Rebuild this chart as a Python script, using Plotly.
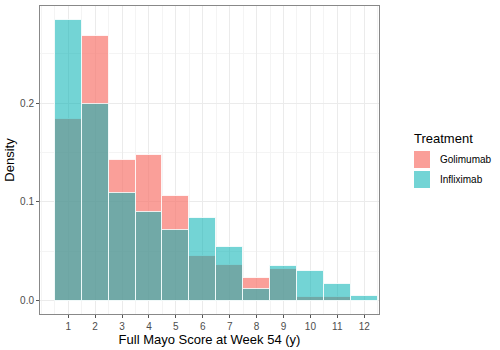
import plotly.graph_objects as go

scores = list(range(1, 13))
golimumab = [0.184, 0.268, 0.143, 0.148, 0.106, 0.045, 0.036, 0.023, 0.032, 0.004, 0.004, 0.0]
infliximab = [0.284, 0.199, 0.109, 0.090, 0.072, 0.084, 0.054, 0.012, 0.035, 0.030, 0.017, 0.005]
groups = ["Golimumab", "Infliximab"]
colors = ["rgba(248,118,109,0.7)", "rgba(0,177,178,0.55)"]

fig = go.Figure()
for name, vals, col in zip(groups, [golimumab, infliximab], colors):
    fig.add_trace(go.Bar(x=scores, y=vals, name=name, width=1, showlegend=False,
                         marker=dict(color=col, line=dict(color="rgba(255,255,255,0.8)", width=1))))

axis_common = dict(showline=True, mirror=True, linecolor="#888", linewidth=1,
                   ticks="outside", ticklen=3, tickcolor="#555",
                   tickfont=dict(size=10, color="#4d4d4d"),
                   gridcolor="#ebebeb", gridwidth=1, zeroline=False)

fig.update_xaxes(range=[-0.05, 12.55], tickvals=scores,
                 minor=dict(dtick=0.5, tick0=0.5, showgrid=True, gridcolor="#f4f4f4", gridwidth=0.5),
                 title=dict(text="Full Mayo Score at Week 54 (y)", font=dict(size=13, color="#000"), standoff=0),
                 **axis_common)
fig.update_yaxes(range=[-0.0135, 0.2986], tickvals=[0, 0.1, 0.2], ticktext=["0.0", "0.1", "0.2"],
                 minor=dict(tickvals=[0.05, 0.15, 0.25], showgrid=True, gridcolor="#f4f4f4", gridwidth=0.5),
                 title=dict(text="Density", font=dict(size=13, color="#000"), standoff=2),
                 **axis_common)

# ggplot-style legend: big keys, labels close to keys
W, H = 339.0, 308.0
def px(x): return (x - 40) / W
def py(y): return (314 - y) / H

fig.add_annotation(text="Treatment", xref="paper", yref="paper", x=px(412), y=py(139),
                   xanchor="left", yanchor="middle", showarrow=False, font=dict(size=13, color="#000"))
for i, (name, col) in enumerate(zip(groups, colors)):
    top = 151 + 20 * i
    fig.add_shape(type="rect", xref="paper", yref="paper", x0=px(414), x1=px(430), y0=py(top + 17), y1=py(top),
                  fillcolor=col, line=dict(width=0))
    fig.add_annotation(text=name, xref="paper", yref="paper", x=px(438), y=py(top + 8.5),
                       xanchor="left", yanchor="middle", showarrow=False, font=dict(size=10, color="#000"))

fig.update_layout(
    width=500, height=350,
    barmode="overlay", bargap=0,
    plot_bgcolor="white", paper_bgcolor="white",
    font=dict(family="Liberation Sans, Arial, sans-serif"),
    margin=dict(l=40, r=121, t=6, b=36, autoexpand=False),
)

fig.write_html("out.html", config={"displayModeBar": False},
               post_script="document.body.style.margin='0';")
